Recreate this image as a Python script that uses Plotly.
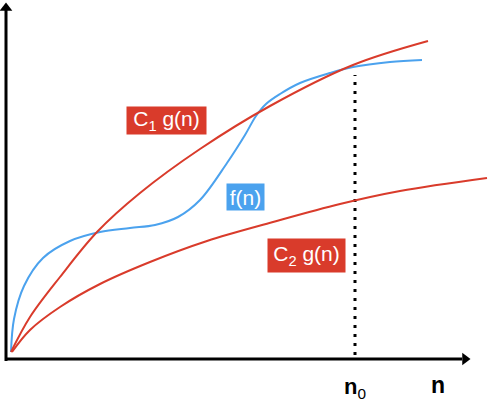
import plotly.graph_objects as go

# Data (n on x, value = height above the n axis)
n_c1 = [11, 30, 60, 97, 140, 200, 270, 353, 428]
c1_g = [7, 42, 82, 127, 166, 210, 253, 294, 318]

n_f = [11, 14, 24, 43, 70, 100, 130, 155, 178, 200, 227, 245, 256, 266, 280, 300, 330, 353, 390, 422]
f_n = [7, 40, 73, 101, 118, 127, 131, 134, 142, 159, 196, 224, 243, 255, 265, 276, 286, 292, 297, 299]

n_c2 = [12, 30, 60, 100, 150, 207, 273, 340, 400, 487]
c2_g = [7, 29, 52, 75, 97, 118, 137, 155, 168, 181]

n0 = 355
n0_top = 284

RED = "#D93B2B"
BLUE = "#4BA2EE"

fig = go.Figure()

# axes
fig.add_trace(go.Scatter(x=[6, 6], y=[-2, 349], mode="lines",
                         line=dict(color="black", width=3), hoverinfo="skip"))
fig.add_trace(go.Scatter(x=[5, 462], y=[0, 0], mode="lines",
                         line=dict(color="black", width=3), hoverinfo="skip"))
fig.add_trace(go.Scatter(x=[6], y=[351], mode="markers",
                         marker=dict(symbol="triangle-up", size=11, color="black"), hoverinfo="skip"))
fig.add_trace(go.Scatter(x=[465], y=[0], mode="markers",
                         marker=dict(symbol="triangle-right", size=11, color="black"), hoverinfo="skip"))

# dotted n0 line
fig.add_trace(go.Scatter(x=[n0, n0], y=[4, n0_top], mode="lines",
                         line=dict(color="black", width=3, dash="3px,6px"), hoverinfo="skip"))

# curves
fig.add_trace(go.Scatter(x=n_c2, y=c2_g, mode="lines",
                         line=dict(color=RED, width=2, shape="spline")))
fig.add_trace(go.Scatter(x=n_f, y=f_n, mode="lines",
                         line=dict(color=BLUE, width=2, shape="spline")))
fig.add_trace(go.Scatter(x=n_c1, y=c1_g, mode="lines",
                         line=dict(color=RED, width=2, shape="spline")))

FONT = "Liberation Sans, Arial, sans-serif"
ann = [
    dict(x=166, y=239, text="C<sub>1</sub> g(n)", bgcolor=RED, width=79, height=27,
         font=dict(color="white", size=21, family=FONT)),
    dict(x=245, y=162, text="f(n)", bgcolor=BLUE, width=37, height=26,
         font=dict(color="white", size=21, family=FONT)),
    dict(x=306, y=104, text="C<sub>2</sub> g(n)", bgcolor=RED, width=77, height=33,
         font=dict(color="white", size=21, family=FONT)),
    dict(x=n0, y=-29, text="<b>n</b><sub>0</sub>",
         font=dict(color="black", size=22, family=FONT)),
    dict(x=438, y=-26, text="<b>n</b>",
         font=dict(color="black", size=23, family=FONT)),
]
for a in ann:
    a.update(showarrow=False, xref="x", yref="y", borderpad=0)
    fig.add_annotation(**a)

fig.update_layout(
    width=488, height=404, margin=dict(l=0, r=0, t=0, b=0),
    paper_bgcolor="white", plot_bgcolor="white", showlegend=False,
    xaxis=dict(range=[0, 488], visible=False, fixedrange=True),
    yaxis=dict(range=[-45, 359], visible=False, fixedrange=True),
)

fig.write_html("out.html", config={"displayModeBar": False},
               post_script="document.body.style.margin='0';")
